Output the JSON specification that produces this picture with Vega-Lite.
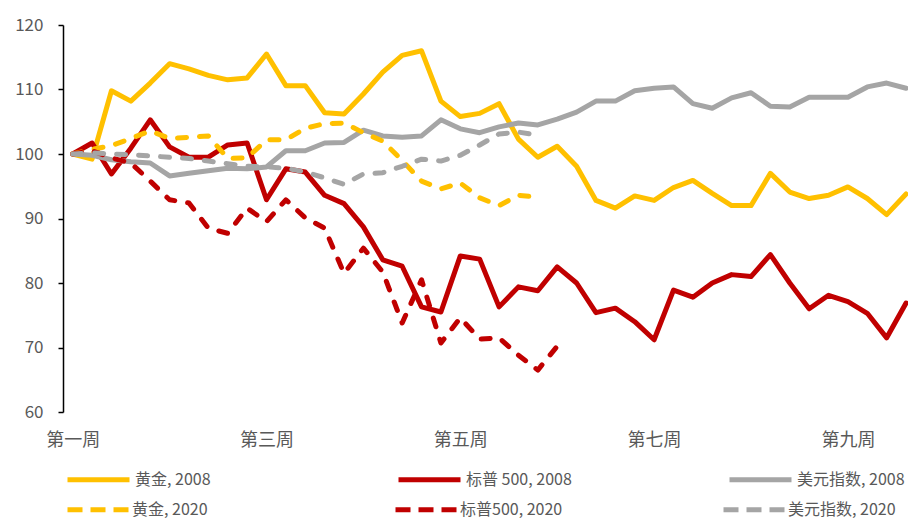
{
  "$schema": "https://vega.github.io/schema/vega-lite/v6.json",
  "width": 845,
  "height": 387,
  "autosize": {"type": "none"},
  "padding": {"left": 63, "top": 25, "right": 0, "bottom": 110},
  "background": "white",
  "config": {"view": {"stroke": null}, "font": "Noto Sans CJK SC"},
  "data": {"values": [
    {"d": 0, "g08": 100, "s08": 100, "u08": 100, "g20": 100, "s20": 100, "u20": 100},
    {"d": 1, "g08": 99.2, "s08": 101.7, "u08": 99.8, "g20": 100.7, "s20": 100.5, "u20": 100.2},
    {"d": 2, "g08": 109.8, "s08": 96.9, "u08": 99.1, "g20": 101.3, "s20": 99.4, "u20": 100.0},
    {"d": 3, "g08": 108.2, "s08": 100.9, "u08": 98.8, "g20": 102.4, "s20": 98.6, "u20": 99.9},
    {"d": 4, "g08": 111.0, "s08": 105.3, "u08": 98.6, "g20": 103.6, "s20": 95.8, "u20": 99.7},
    {"d": 5, "g08": 114.0, "s08": 101.1, "u08": 96.6, "g20": 102.4, "s20": 92.9, "u20": 99.5},
    {"d": 6, "g08": 113.2, "s08": 99.5, "u08": 97.0, "g20": 102.6, "s20": 92.4, "u20": 99.3},
    {"d": 7, "g08": 112.2, "s08": 99.5, "u08": 97.4, "g20": 102.8, "s20": 88.5, "u20": 98.9},
    {"d": 8, "g08": 111.5, "s08": 101.4, "u08": 97.8, "g20": 99.3, "s20": 87.7, "u20": 98.5},
    {"d": 9, "g08": 111.8, "s08": 101.7, "u08": 97.7, "g20": 99.4, "s20": 91.6, "u20": 98.1},
    {"d": 10, "g08": 115.5, "s08": 92.9, "u08": 98.0, "g20": 102.2, "s20": 89.5, "u20": 98.0},
    {"d": 11, "g08": 110.6, "s08": 97.7, "u08": 100.5, "g20": 102.2, "s20": 92.9, "u20": 97.8},
    {"d": 12, "g08": 110.6, "s08": 97.2, "u08": 100.5, "g20": 104.0, "s20": 90.1, "u20": 97.2},
    {"d": 13, "g08": 106.4, "s08": 93.6, "u08": 101.7, "g20": 104.7, "s20": 88.5, "u20": 96.3},
    {"d": 14, "g08": 106.2, "s08": 92.3, "u08": 101.8, "g20": 104.8, "s20": 81.5, "u20": 95.3},
    {"d": 15, "g08": 109.3, "s08": 88.7, "u08": 103.7, "g20": 103.3, "s20": 85.4, "u20": 96.9},
    {"d": 16, "g08": 112.7, "s08": 83.6, "u08": 102.8, "g20": 102.0, "s20": 81.7, "u20": 97.1},
    {"d": 17, "g08": 115.3, "s08": 82.6, "u08": 102.6, "g20": 99.0, "s20": 73.8, "u20": 98.1},
    {"d": 18, "g08": 116.0, "s08": 76.3, "u08": 102.8, "g20": 95.8, "s20": 80.5, "u20": 99.2},
    {"d": 19, "g08": 108.2, "s08": 75.5, "u08": 105.3, "g20": 94.6, "s20": 70.7, "u20": 98.9},
    {"d": 20, "g08": 105.8, "s08": 84.2, "u08": 103.9, "g20": 95.5, "s20": 74.6, "u20": 99.8},
    {"d": 21, "g08": 106.3, "s08": 83.7, "u08": 103.3, "g20": 93.2, "s20": 71.3, "u20": 101.4},
    {"d": 22, "g08": 107.8, "s08": 76.3, "u08": 104.2, "g20": 92.0, "s20": 71.5, "u20": 103.1},
    {"d": 23, "g08": 102.3, "s08": 79.4, "u08": 104.8, "g20": 93.6, "s20": 68.8, "u20": 103.4},
    {"d": 24, "g08": 99.5, "s08": 78.8, "u08": 104.5, "g20": 93.3, "s20": 66.5, "u20": 102.9},
    {"d": 25, "g08": 101.2, "s08": 82.5, "u08": 105.4, "s20": 70.2},
    {"d": 26, "g08": 98.1, "s08": 80.0, "u08": 106.5},
    {"d": 27, "g08": 92.8, "s08": 75.4, "u08": 108.2},
    {"d": 28, "g08": 91.6, "s08": 76.1, "u08": 108.2},
    {"d": 29, "g08": 93.5, "s08": 74.0, "u08": 109.8},
    {"d": 30, "g08": 92.8, "s08": 71.2, "u08": 110.2},
    {"d": 31, "g08": 94.8, "s08": 78.9, "u08": 110.4},
    {"d": 32, "g08": 95.9, "s08": 77.8, "u08": 107.8},
    {"d": 33, "g08": 93.9, "s08": 80.0, "u08": 107.1},
    {"d": 34, "g08": 92.0, "s08": 81.3, "u08": 108.7},
    {"d": 35, "g08": 92.0, "s08": 81.0, "u08": 109.5},
    {"d": 36, "g08": 97.0, "s08": 84.4, "u08": 107.4},
    {"d": 37, "g08": 94.1, "s08": 80.0, "u08": 107.3},
    {"d": 38, "g08": 93.1, "s08": 76.0, "u08": 108.8},
    {"d": 39, "g08": 93.6, "s08": 78.1, "u08": 108.8},
    {"d": 40, "g08": 94.9, "s08": 77.1, "u08": 108.8},
    {"d": 41, "g08": 93.1, "s08": 75.3, "u08": 110.4},
    {"d": 42, "g08": 90.6, "s08": 71.5, "u08": 111.0},
    {"d": 43, "g08": 93.8, "s08": 76.9, "u08": 110.2}
  ]},
  "transform": [
    {"fold": ["g08", "s08", "u08", "g20", "s20", "u20"], "as": ["series", "value"]},
    {"filter": "isValid(datum.value)"}
  ],
  "encoding": {
    "x": {
      "field": "d", "type": "quantitative",
      "scale": {"domain": [-0.5, 43.1], "nice": false, "zero": false},
      "axis": {
        "values": [0, 10, 20, 30, 40],
        "labelExpr": "['第一周','第三周','第五周','第七周','第九周'][datum.value/10]",
        "domain": false, "ticks": false, "grid": false, "title": null,
        "labelFontSize": 18, "labelColor": "#595959", "labelPadding": 19
      }
    },
    "y": {
      "field": "value", "type": "quantitative",
      "scale": {"domain": [60, 120], "nice": false, "zero": false},
      "axis": {
        "values": [60, 70, 80, 90, 100, 110, 120],
        "grid": false, "title": null,
        "domainColor": "#000000", "domainWidth": 1.5,
        "tickColor": "#000000", "tickWidth": 1.5, "tickSize": 5,
        "labelFontSize": 17, "labelColor": "#595959", "labelPadding": 15
      }
    }
  },
  "layer": [
    {
      "transform": [{"filter": {"field": "series", "oneOf": ["g08", "s08", "u08"]}}],
      "mark": {"type": "line", "strokeWidth": 5, "strokeCap": "round", "strokeJoin": "round", "clip": true},
      "encoding": {
        "color": {
          "field": "series", "type": "nominal",
          "scale": {"domain": ["g08", "s08", "u08"], "range": ["#FFC000", "#C00000", "#A5A5A5"]},
          "legend": {
            "title": null, "orient": "none", "legendX": 2, "legendY": 421, "direction": "horizontal",
            "columns": 3, "gridAlign": "all", "columnPadding": 145,
            "symbolType": "stroke", "symbolSize": 3844, "symbolStrokeWidth": 5,
            "labelFontSize": 16, "labelColor": "#595959", "labelOffset": 3,
            "labelExpr": "{'g08':'黄金, 2008','s08':'标普 500, 2008','u08':'美元指数, 2008'}[datum.label]"
          }
        }
      }
    },
    {
      "transform": [{"filter": {"field": "series", "oneOf": ["g20", "s20", "u20"]}}],
      "mark": {"type": "line", "strokeWidth": 5, "strokeCap": "round", "strokeJoin": "round", "strokeDash": [9, 13], "clip": true},
      "encoding": {
        "color": {
          "field": "series", "type": "nominal",
          "scale": {"domain": ["g20", "s20", "u20"], "range": ["#FFC000", "#C00000", "#A5A5A5"]},
          "legend": {
            "title": null, "orient": "none", "legendX": 2, "legendY": 451, "direction": "horizontal",
            "columns": 3, "gridAlign": "all", "columnPadding": 145,
            "symbolType": "stroke", "symbolSize": 3844, "symbolStrokeWidth": 5, "symbolDash": [15, 8],
            "labelFontSize": 16, "labelColor": "#595959", "labelOffset": 0,
            "labelExpr": "{'g20':'黄金, 2020','s20':'标普500, 2020','u20':'美元指数, 2020'}[datum.label]"
          }
        }
      }
    }
  ],
  "resolve": {"scale": {"color": "independent"}}
}
